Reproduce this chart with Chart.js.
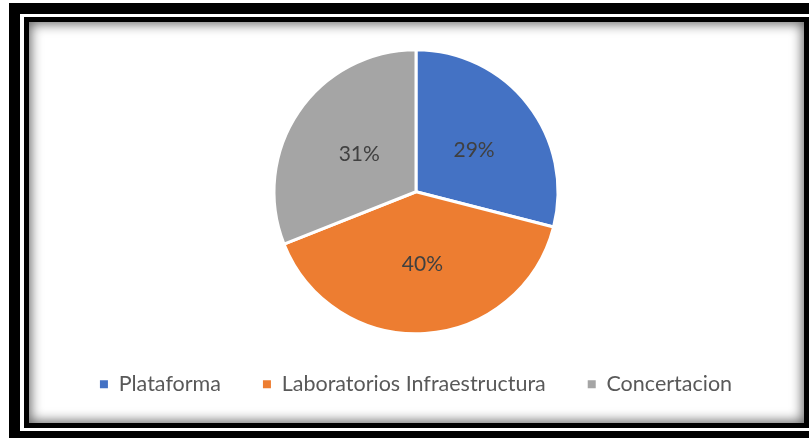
<!DOCTYPE html>
<html>
<head>
<meta charset="utf-8">
<script src="https://cdn.jsdelivr.net/npm/chart.js@4.4.0/dist/chart.umd.min.js"></script>
<style>
  body { margin: 0; background: #fff; width: 809px; height: 438px; overflow: hidden; position: relative; }
  #outer { position: absolute; left: 9px; top: 3px; width: 830px; height: 439px; border: 11px solid #000; box-sizing: border-box; }
  #inner { position: absolute; left: 24px; top: 17px; width: 785px; height: 411px; border: 5px solid #000; box-sizing: border-box;
           background: #fff; box-shadow: inset 0 0 12px 2px rgba(0,0,0,0.6); }
  #wrap { position: absolute; left: 29px; top: 22px; width: 774px; height: 401px; }
</style>
</head>
<body>
<div id="outer"></div>
<div id="inner"></div>
<div id="wrap"><canvas id="chart"></canvas></div>
<script>
// Chart data
const categories = ["Plataforma", "Laboratorios Infraestructura", "Concertacion"];
const shares = [29, 40, 31];
const sliceColors = ["#4472C4", "#ED7D31", "#A5A5A5"];

// Draws the percentage inside each slice
const sliceLabels = {
  id: "sliceLabels",
  afterDatasetsDraw(chart) {
    const ctx = chart.ctx;
    const meta = chart.getDatasetMeta(0);
    ctx.save();
    ctx.font = "21px Lato";
    ctx.fillStyle = "#404040";
    ctx.textAlign = "center";
    ctx.textBaseline = "middle";
    meta.data.forEach((arc, i) => {
      const pos = arc.tooltipPosition();
      ctx.fillText(shares[i] + "%", pos.x + 2, pos.y + 2);
    });
    ctx.restore();
  },
};

const ctx = document.getElementById("chart").getContext("2d");
new Chart(ctx, {
  type: "pie",
  data: {
    labels: categories,
    datasets: [
      {
        data: shares,
        backgroundColor: sliceColors,
        borderColor: "#ffffff",
        borderWidth: 3,
        radius: 142,
      },
    ],
  },
  options: {
    responsive: true,
    maintainAspectRatio: false,
    animation: false,
    layout: { padding: { top: 30, bottom: 18 } },
    plugins: {
      tooltip: { enabled: false },
      legend: {
        position: "bottom",
        labels: {
          boxWidth: 8,
          boxHeight: 8,
          padding: 42,
          color: "#595959",
          font: { family: "Lato", size: 21.5 },
          // no white border on the legend squares
          generateLabels: (chart) =>
            Chart.overrides.pie.plugins.legend.labels
              .generateLabels(chart)
              .map((item) => ({ ...item, lineWidth: 0, strokeStyle: item.fillStyle })),
        },
      },
    },
  },
  plugins: [sliceLabels],
});
</script>
</body>
</html>
